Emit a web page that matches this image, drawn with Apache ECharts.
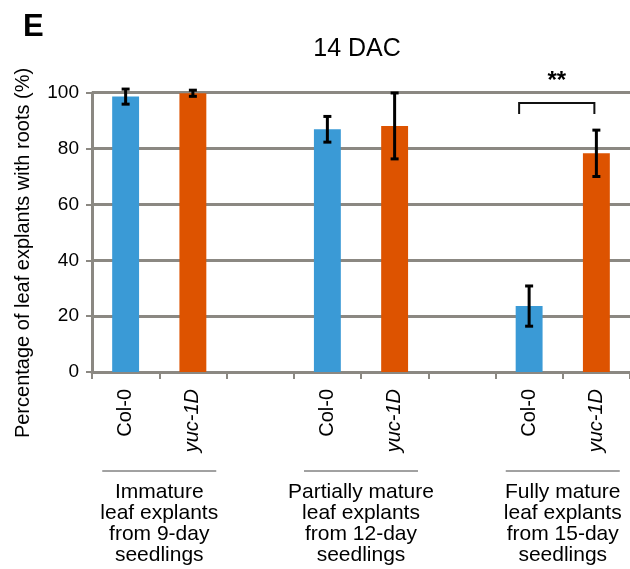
<!DOCTYPE html>
<html><head><meta charset="utf-8">
<script src="https://cdn.jsdelivr.net/npm/echarts@6/dist/echarts.min.js"></script>
<style>html,body{margin:0;padding:0;background:#fff}#c{width:630px;height:569px}</style>
</head><body><div id="c"></div>
<script>
// ---- data ----
const categories = ['Col-0', 'yuc-1D', '', 'Col-0', 'yuc-1D', '', 'Col-0', 'yuc-1D'];
const values = [98.6, 99.8, null, 86.9, 88.1, null, 23.6, 78.3];
const errors = [2.7, 1.1, null, 4.6, 11.8, null, 7.2, 8.3];
const groupLabels = ['Immature\nleaf explants\nfrom 9-day\nseedlings',
                     'Partially mature\nleaf explants\nfrom 12-day\nseedlings',
                     'Fully mature\nleaf explants\nfrom 15-day\nseedlings'];
const groupFirst = [0, 3, 6];
const groupLast = [1, 4, 7];
const yTicks = [0, 20, 40, 60, 80, 100];
const sigPair = [6, 7];
const sigBracket = 96.3;
const sigTip = 92.4;
const sigText = '**';
const titleText = '14 DAC';
const panelLetter = 'E';
const yTitle = 'Percentage of leaf explants with roots (%)';

// ---- styles ----
const FONT = '"Liberation Sans", Arial, Helvetica, sans-serif';
const genotypeColors = { 'Col-0': '#3a9ad6', 'yuc-1D': '#dd5300' };
const gridColor = '#8b8882';

const chart = echarts.init(document.getElementById('c'), null, { renderer: 'canvas' });

const barData = values.map((v, i) => v == null ? null : ({
  value: v, itemStyle: { color: genotypeColors[categories[i]] }
}));
const errData = [];
values.forEach((v, i) => { if (v != null) errData.push([i, v, errors[i]]); });

chart.setOption({
  animation: false,
  backgroundColor: '#fff',
  textStyle: { fontFamily: FONT },
  grid: { left: 92, right: 0, top: 92.7, bottom: 197, containLabel: false },
  xAxis: {
    type: 'category',
    data: categories,
    axisLine: { show: true, lineStyle: { color: gridColor, width: 3 } },
    axisTick: { show: true, length: 7, alignWithLabel: false, interval: 0, lineStyle: { color: gridColor, width: 2 } },
    axisLabel: {
      interval: 0, rotate: 90, margin: 17, color: '#000', fontSize: 20, fontFamily: FONT,
      formatter: v => v === 'yuc-1D' ? '{it|' + v + '}' : v,
      rich: { it: { fontStyle: 'italic', fontSize: 20, color: '#000', fontFamily: FONT } }
    },
    splitLine: { show: false }
  },
  yAxis: {
    type: 'value',
    min: yTicks[0], max: yTicks[yTicks.length - 1], interval: yTicks[1] - yTicks[0],
    axisLine: { show: true, lineStyle: { color: gridColor, width: 3 } },
    axisTick: { show: true, length: 6, lineStyle: { color: gridColor, width: 2 } },
    axisLabel: { color: '#000', fontSize: 19, margin: 13, fontFamily: FONT },
    splitLine: { show: true, lineStyle: { color: gridColor, width: 3 } }
  },
  series: [
    {
      type: 'bar', data: barData, barWidth: '40%', z: 2
    },
    {
      type: 'custom', data: errData, encode: { x: 0, y: 1 }, z: 5, clip: false,
      renderItem: (params, api) => {
        const x = api.value(0), v = api.value(1), e = api.value(2);
        const t = api.coord([x, v + e]), b = api.coord([x, v - e]);
        const hw = 4, st = { stroke: '#000', lineWidth: 3 };
        return { type: 'group', children: [
          { type: 'line', shape: { x1: t[0], y1: t[1], x2: b[0], y2: b[1] }, style: st },
          { type: 'line', shape: { x1: t[0] - hw, y1: t[1], x2: t[0] + hw, y2: t[1] }, style: st },
          { type: 'line', shape: { x1: b[0] - hw, y1: b[1], x2: b[0] + hw, y2: b[1] }, style: st }
        ]};
      }
    }
  ]
});

// ---- annotations placed through the chart's own scales ----
const px = i => chart.convertToPixel({ xAxisIndex: 0 }, i);
const py = v => chart.convertToPixel({ yAxisIndex: 0 }, v);
const graphics = [];
graphics.push({ type: 'text', left: 23, top: 12, style: { text: panelLetter, font: 'bold 31px ' + FONT, fill: '#000' } });
graphics.push({ type: 'text', x: 357, y: 49, style: { text: titleText, font: '25px ' + FONT, fill: '#000', textAlign: 'center', textVerticalAlign: 'middle' } });
graphics.push({ type: 'text', x: 23, y: 253, rotation: Math.PI / 2,
  style: { text: yTitle, font: '20px ' + FONT, fill: '#000', textAlign: 'center', textVerticalAlign: 'middle' } });

groupLabels.forEach((lab, k) => {
  const cx = (px(groupFirst[k]) + px(groupLast[k])) / 2;
  graphics.push({ type: 'line', shape: { x1: cx - 57, y1: 471, x2: cx + 57, y2: 471 }, style: { stroke: '#444', lineWidth: 1 } });
  graphics.push({ type: 'text', x: cx, y: 482, style: { text: lab, font: '21px ' + FONT, fill: '#000', textAlign: 'center', textVerticalAlign: 'top', lineHeight: 21 } });
});

const bx1 = px(sigPair[0]) - 10, bx2 = px(sigPair[1]) - 2;
const by = py(sigBracket), bt = py(sigTip);
graphics.push({ type: 'polyline', shape: { points: [[bx1, bt], [bx1, by], [bx2, by], [bx2, bt]] }, style: { stroke: '#111', lineWidth: 2, fill: null } });
graphics.push({ type: 'text', x: (bx1 + bx2) / 2, y: 81, style: { text: sigText, font: 'bold 24px ' + FONT, fill: '#000', textAlign: 'center', textVerticalAlign: 'middle' } });

chart.setOption({ graphic: graphics });
</script>
</body></html>
